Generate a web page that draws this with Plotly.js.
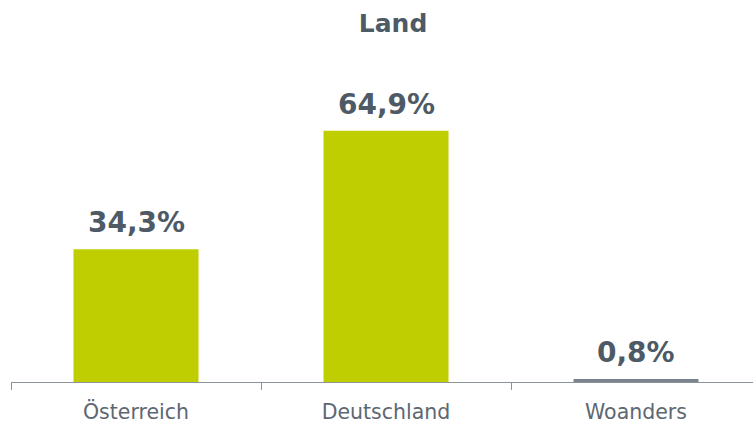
<!DOCTYPE html>
<html><head><meta charset="utf-8">
<script src="https://cdn.plot.ly/plotly-3.0.1.min.js"></script>
<style>html,body{margin:0;padding:0;background:#fff}#c{width:753px;height:423px}</style>
</head><body><div id="c"></div>
<script>
const categories = ["Österreich", "Deutschland", "Woanders"];
const values = [34.3, 64.9, 0.8];
const valueLabels = ["34,3%", "64,9%", "0,8%"];
const barColors = ["#bfce00", "#bfce00", "#7a838d"];
const textColor = "#4e5a66";

const trace = {
  type: "bar", x: categories, y: values, width: 0.5,
  marker: {color: barColors}, hoverinfo: "none"
};
const annotations = categories.map((c, i) => ({
  x: c, y: values[i], xref: "x", yref: "y", text: valueLabels[i],
  showarrow: false, yanchor: "bottom", yshift: 8,
  font: {family: "DejaVu Sans, Verdana, sans-serif", size: 28, color: textColor, weight: 700}
}));
const layout = {
  width: 753, height: 423,
  margin: {l: 11, r: 0, t: 41, b: 41},
  paper_bgcolor: "#fff", plot_bgcolor: "#fff",
  title: {text: "<b>Land</b>", x: 0.522, xref: "container", xanchor: "center", y: 0.945, yanchor: "middle",
    font: {family: "DejaVu Sans, Verdana, sans-serif", size: 25, color: textColor}},
  xaxis: {range: [-0.5, 2.468], showline: true, linecolor: "#8c939b", linewidth: 1,
    ticks: "outside", tickson: "boundaries", ticklen: 7, tickcolor: "#8c939b",
    ticklabelstandoff: 11, automargin: false,
    tickfont: {family: "DejaVu Sans, Verdana, sans-serif", size: 20.5, color: "#5d6772"},
    showgrid: false, zeroline: false, fixedrange: true},
  yaxis: {range: [0, 88.1], visible: false, showgrid: false, zeroline: false, fixedrange: true},
  annotations: annotations, showlegend: false
};
Plotly.newPlot("c", [trace], layout, {displayModeBar: false, staticPlot: true});
</script></body></html>
